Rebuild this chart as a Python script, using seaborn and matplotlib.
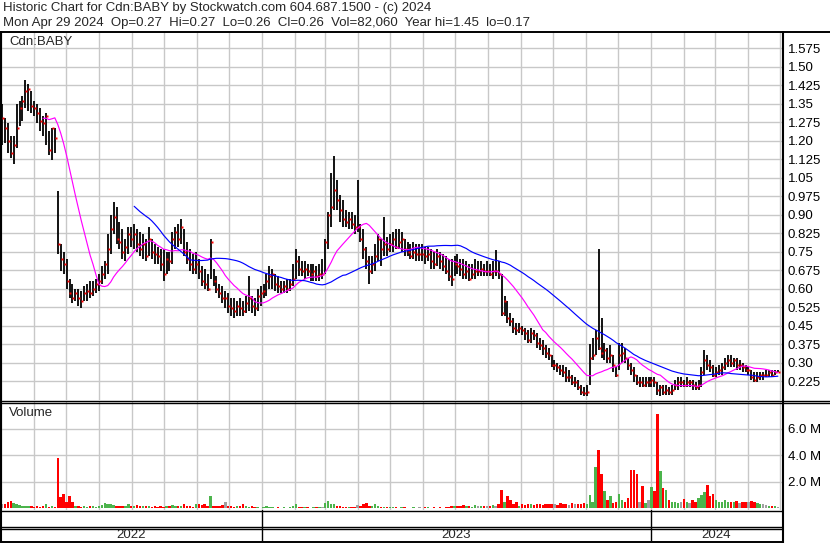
import matplotlib
matplotlib.use('Agg')
import matplotlib.pyplot as plt
import seaborn as sns
import pandas as pd
import numpy as np

# bars every 2nd session, 2 May 2022 -> 29 Apr 2024 (11 bars a month)
high = [
    1.35, 1.29, 1.27, 1.22, 1.22, 1.35, 1.36, 1.38, 1.447, 1.43, 1.40,   # May 22
    1.36, 1.35, 1.33, 1.30, 1.31, 1.24, 1.25, 1.25, 0.996, 0.78, 0.75,   # Jun
    0.72, 0.64, 0.62, 0.60, 0.60, 0.59, 0.61, 0.62, 0.63, 0.63, 0.64,    # Jul
    0.66, 0.69, 0.71, 0.82, 0.90, 0.95, 0.93, 0.87, 0.84, 0.80, 0.85,    # Aug
    0.85, 0.86, 0.84, 0.83, 0.82, 0.80, 0.85, 0.80, 0.78, 0.77, 0.76,    # Sep
    0.76, 0.75, 0.75, 0.83, 0.85, 0.86, 0.88, 0.84, 0.79, 0.76, 0.74,    # Oct
    0.75, 0.72, 0.69, 0.68, 0.66, 0.80, 0.68, 0.65, 0.62, 0.61, 0.59,    # Nov
    0.58, 0.56, 0.56, 0.55, 0.56, 0.55, 0.57, 0.65, 0.57, 0.56, 0.60,    # Dec
    0.61, 0.62, 0.66, 0.69, 0.68, 0.66, 0.65, 0.63, 0.63, 0.64, 0.64,    # Jan 23
    0.70, 0.76, 0.73, 0.71, 0.71, 0.70, 0.70, 0.70, 0.69, 0.70, 0.72,    # Feb
    0.80, 0.91, 1.07, 1.138, 1.04, 0.98, 0.96, 0.92, 0.91, 0.91, 0.90,   # Mar
    1.04, 0.86, 0.84, 0.77, 0.73, 0.73, 0.78, 0.82, 0.80, 0.89, 0.81,    # Apr
    0.82, 0.83, 0.84, 0.84, 0.83, 0.80, 0.79, 0.78, 0.79, 0.78, 0.78,    # May
    0.78, 0.77, 0.77, 0.76, 0.75, 0.76, 0.75, 0.74, 0.73, 0.72, 0.72,    # Jun
    0.73, 0.74, 0.72, 0.72, 0.71, 0.70, 0.70, 0.72, 0.71, 0.71, 0.70,    # Jul
    0.71, 0.70, 0.71, 0.755, 0.71, 0.66, 0.57, 0.55, 0.50, 0.48, 0.46,   # Aug
    0.46, 0.45, 0.44, 0.43, 0.44, 0.43, 0.42, 0.40, 0.39, 0.37, 0.36,    # Sep
    0.33, 0.31, 0.30, 0.29, 0.29, 0.28, 0.27, 0.25, 0.24, 0.23, 0.21,    # Oct
    0.20, 0.21, 0.375, 0.40, 0.43, 0.76, 0.48, 0.38, 0.36, 0.37, 0.33,   # Nov
    0.28, 0.38, 0.38, 0.36, 0.32, 0.30, 0.28, 0.25, 0.24, 0.24, 0.24,    # Dec
    0.24, 0.24, 0.24, 0.22, 0.21, 0.21, 0.21, 0.20, 0.21, 0.23, 0.24,    # Jan 24
    0.24, 0.23, 0.24, 0.23, 0.23, 0.22, 0.23, 0.28, 0.35, 0.33, 0.31,    # Feb
    0.29, 0.28, 0.29, 0.30, 0.32, 0.33, 0.33, 0.32, 0.32, 0.31, 0.30,    # Mar
    0.29, 0.28, 0.27, 0.26, 0.26, 0.26, 0.26, 0.27, 0.27, 0.27, 0.27, 0.27,  # Apr
]
low = [
    1.18, 1.19, 1.15, 1.13, 1.105, 1.17, 1.26, 1.28, 1.33, 1.32, 1.31,
    1.30, 1.27, 1.24, 1.22, 1.18, 1.14, 1.12, 1.15, 0.74, 0.67, 0.66,
    0.60, 0.56, 0.54, 0.55, 0.53, 0.52, 0.55, 0.55, 0.56, 0.57, 0.58,
    0.59, 0.62, 0.64, 0.66, 0.74, 0.82, 0.78, 0.76, 0.72, 0.71, 0.74,
    0.77, 0.76, 0.75, 0.73, 0.72, 0.71, 0.73, 0.72, 0.70, 0.70, 0.67,
    0.63, 0.66, 0.67, 0.70, 0.76, 0.77, 0.78, 0.73, 0.70, 0.67, 0.66,
    0.66, 0.64, 0.61, 0.60, 0.59, 0.64, 0.61, 0.58, 0.56, 0.54, 0.52,
    0.50, 0.49, 0.48, 0.49, 0.49, 0.49, 0.50, 0.51, 0.50, 0.49, 0.51,
    0.53, 0.56, 0.57, 0.60, 0.60, 0.59, 0.58, 0.58, 0.58, 0.58, 0.59,
    0.61, 0.64, 0.65, 0.65, 0.64, 0.65, 0.63, 0.63, 0.63, 0.63, 0.64,
    0.66, 0.76, 0.85, 0.92, 0.92, 0.87, 0.85, 0.85, 0.84, 0.84, 0.82,
    0.83, 0.79, 0.72, 0.68, 0.62, 0.66, 0.67, 0.71, 0.69, 0.73, 0.73,
    0.75, 0.75, 0.76, 0.76, 0.75, 0.73, 0.73, 0.72, 0.72, 0.71, 0.71,
    0.71, 0.70, 0.71, 0.68, 0.68, 0.69, 0.68, 0.67, 0.66, 0.63, 0.61,
    0.65, 0.66, 0.65, 0.64, 0.64, 0.63, 0.64, 0.64, 0.65, 0.65, 0.65,
    0.65, 0.65, 0.64, 0.65, 0.64, 0.49, 0.49, 0.46, 0.45, 0.42, 0.41,
    0.42, 0.41, 0.39, 0.38, 0.38, 0.39, 0.36, 0.35, 0.33, 0.32, 0.31,
    0.28, 0.27, 0.26, 0.25, 0.24, 0.22, 0.22, 0.21, 0.20, 0.19, 0.17,
    0.165, 0.165, 0.21, 0.31, 0.33, 0.35, 0.32, 0.31, 0.30, 0.30, 0.26,
    0.24, 0.27, 0.30, 0.30, 0.27, 0.25, 0.22, 0.21, 0.20, 0.20, 0.20,
    0.20, 0.20, 0.20, 0.17, 0.165, 0.17, 0.17, 0.17, 0.17, 0.19, 0.19,
    0.20, 0.20, 0.20, 0.20, 0.19, 0.19, 0.19, 0.20, 0.25, 0.27, 0.26,
    0.24, 0.24, 0.25, 0.25, 0.27, 0.28, 0.28, 0.28, 0.27, 0.27, 0.26,
    0.26, 0.25, 0.23, 0.22, 0.22, 0.23, 0.23, 0.24, 0.24, 0.24, 0.25, 0.26,
]
close = [
    1.29, 1.25, 1.20, 1.15, 1.18, 1.25, 1.33, 1.36, 1.40, 1.41, 1.34,
    1.33, 1.31, 1.28, 1.27, 1.30, 1.16, 1.25, 1.21, 0.78, 0.72, 0.70,
    0.63, 0.58, 0.56, 0.58, 0.56, 0.55, 0.58, 0.59, 0.58, 0.60, 0.62,
    0.63, 0.66, 0.70, 0.76, 0.84, 0.89, 0.80, 0.79, 0.75, 0.77, 0.82,
    0.80, 0.82, 0.78, 0.76, 0.78, 0.73, 0.80, 0.75, 0.74, 0.73, 0.70,
    0.66, 0.72, 0.71, 0.80, 0.83, 0.80, 0.85, 0.75, 0.72, 0.70, 0.68,
    0.70, 0.67, 0.63, 0.62, 0.60, 0.79, 0.63, 0.60, 0.58, 0.56, 0.56,
    0.53, 0.52, 0.51, 0.53, 0.52, 0.51, 0.54, 0.56, 0.53, 0.52, 0.57,
    0.58, 0.59, 0.63, 0.65, 0.66, 0.62, 0.61, 0.60, 0.61, 0.60, 0.62,
    0.64, 0.71, 0.68, 0.67, 0.68, 0.67, 0.66, 0.67, 0.65, 0.66, 0.66,
    0.79, 0.90, 0.93, 1.00, 0.96, 0.92, 0.88, 0.87, 0.88, 0.86, 0.85,
    0.85, 0.80, 0.76, 0.71, 0.67, 0.70, 0.73, 0.80, 0.76, 0.78, 0.76,
    0.78, 0.80, 0.77, 0.79, 0.80, 0.76, 0.75, 0.73, 0.75, 0.74, 0.74,
    0.74, 0.73, 0.74, 0.71, 0.70, 0.73, 0.71, 0.69, 0.67, 0.65, 0.64,
    0.70, 0.69, 0.68, 0.66, 0.67, 0.64, 0.66, 0.67, 0.67, 0.68, 0.67,
    0.67, 0.66, 0.67, 0.67, 0.66, 0.50, 0.55, 0.48, 0.47, 0.44, 0.43,
    0.44, 0.43, 0.42, 0.39, 0.42, 0.41, 0.38, 0.37, 0.36, 0.34, 0.33,
    0.29, 0.29, 0.28, 0.27, 0.26, 0.24, 0.24, 0.22, 0.22, 0.20, 0.18,
    0.175, 0.18, 0.32, 0.33, 0.40, 0.36, 0.34, 0.35, 0.32, 0.33, 0.29,
    0.25, 0.33, 0.34, 0.32, 0.29, 0.27, 0.25, 0.22, 0.22, 0.21, 0.22,
    0.22, 0.23, 0.22, 0.19, 0.20, 0.18, 0.19, 0.18, 0.19, 0.21, 0.22,
    0.22, 0.21, 0.22, 0.22, 0.21, 0.20, 0.21, 0.26, 0.31, 0.29, 0.28,
    0.25, 0.26, 0.27, 0.28, 0.30, 0.31, 0.30, 0.31, 0.29, 0.29, 0.28,
    0.27, 0.27, 0.24, 0.23, 0.24, 0.25, 0.25, 0.25, 0.26, 0.25, 0.26, 0.26,
]
# volume in millions of shares
volume = [
    0.30, 0.35, 0.50, 0.55, 0.40, 0.30, 0.25, 0.20, 0.15, 0.20, 0.15,
    0.10, 0.20, 0.10, 0.15, 0.30, 0.12, 0.20, 0.10, 3.80, 0.85, 1.10,
    0.50, 0.93, 0.50, 0.20, 0.15, 0.12, 0.20, 0.10, 0.15, 0.20, 0.12,
    0.15, 0.25, 0.40, 0.35, 0.30, 0.25, 0.20, 0.15, 0.20, 0.15, 0.30,
    0.20, 0.15, 0.25, 0.20, 0.15, 0.15, 0.20, 0.10, 0.15, 0.10, 0.15,
    0.10, 0.15, 0.20, 0.25, 0.15, 0.20, 0.15, 0.30, 0.20, 0.15, 0.10,
    0.35, 0.30, 0.25, 0.30, 0.15, 0.93, 0.20, 0.15, 0.20, 0.25, 0.47,
    0.20, 0.15, 0.10, 0.15, 0.20, 0.35, 0.20, 0.10, 0.15, 0.10, 0.10,
    0.05, 0.10, 0.15, 0.10, 0.08, 0.05, 0.10, 0.05, 0.08, 0.05, 0.10,
    0.15, 0.30, 0.10, 0.08, 0.10, 0.08, 0.05, 0.08, 0.10, 0.08, 0.12,
    0.40, 0.55, 0.35, 0.30, 0.20, 0.15, 0.10, 0.12, 0.10, 0.08, 0.10,
    0.25, 0.20, 0.35, 0.40, 0.20, 0.15, 0.30, 0.15, 0.10, 0.12, 0.10,
    0.10, 0.08, 0.12, 0.05, 0.10, 0.08, 0.05, 0.05, 0.08, 0.05, 0.10,
    0.05, 0.10, 0.08, 0.05, 0.10, 0.05, 0.08, 0.05, 0.10, 0.08, 0.15,
    0.15, 0.20, 0.15, 0.25, 0.15, 0.20, 0.10, 0.25, 0.20, 0.15, 0.20,
    0.15, 0.20, 0.25, 0.20, 0.30, 1.40, 0.45, 0.95, 0.60, 0.35, 0.50,
    0.20, 0.30, 0.25, 0.35, 0.30, 0.25, 0.30, 0.30, 0.25, 0.35, 0.30,
    0.30, 0.35, 0.25, 0.40, 0.30, 0.35, 0.25, 0.40, 0.30, 0.35, 0.30,
    0.40, 0.30, 1.00, 0.50, 3.15, 4.40, 2.55, 1.30, 0.60, 0.90, 0.40,
    0.50, 1.10, 0.60, 0.45, 0.80, 2.85, 2.85, 2.55, 0.50, 1.70, 0.40,
    0.60, 1.60, 1.30, 7.10, 2.80, 1.55, 1.40, 0.60, 0.45, 0.50, 0.40,
    0.45, 0.70, 0.50, 0.40, 0.60, 0.50, 0.80, 1.00, 1.20, 1.75, 0.90,
    1.10, 0.60, 0.50, 0.45, 0.60, 0.50, 0.45, 0.50, 0.55, 0.40, 0.45,
    0.45, 0.50, 0.55, 0.50, 0.40, 0.35, 0.30, 0.25, 0.20, 0.15, 0.15, 0.08,
]

first_day = '2022-05-02'
last_day = '2024-04-29'
price_ticks = [0.225, 0.30, 0.375, 0.45, 0.525, 0.60, 0.675, 0.75, 0.825, 0.90,
               0.975, 1.05, 1.125, 1.20, 1.275, 1.35, 1.425, 1.50, 1.575]
price_labels = ['0.225', '0.30', '0.375', '0.45', '0.525', '0.60', '0.675', '0.75',
                '0.825', '0.90', '0.975', '1.05', '1.125', '1.20', '1.275', '1.35',
                '1.425', '1.50', '1.575']
vol_ticks = [2, 4, 6]
vol_labels = ['2.0 M', '4.0 M', '6.0 M']
years = [2022, 2023, 2024]
title1 = 'Historic Chart for Cdn:BABY by Stockwatch.com 604.687.1500 - (c) 2024'
title2 = ('Mon Apr 29 2024  Op=0.27  Hi=0.27  Lo=0.26  Cl=0.26  Vol=82,060  '
          'Year hi=1.45  lo=0.17')

df = pd.DataFrame({'high': high, 'low': low, 'close': close, 'volume': volume})
df['date'] = pd.date_range(first_day, last_day, periods=len(df))
df['ma_short'] = df['close'].rolling(15).mean()
df['ma_long'] = df['close'].rolling(46).mean()
chg = df['close'].diff()
df['vcolor'] = np.where(chg > 0, '#4cb44c', np.where(chg < 0, '#ff0000', '#a0a0a0'))

sns.set_style('white')
plt.rcParams['font.family'] = ['Liberation Sans', 'DejaVu Sans']
FS = 9.5
GRID = '#c8c8c8'

W, H = 830, 543
fig = plt.figure(figsize=(W / 100, H / 100), dpi=100)


def px_axes(x0, y0, x1, y1):
    return fig.add_axes([x0 / W, 1 - y1 / H, (x1 - x0) / W, (y1 - y0) / H])


xlim = (pd.Timestamp('2022-04-30 05:00'), pd.Timestamp('2024-05-02 21:00'))
months = pd.date_range('2022-05-01', '2024-05-01', freq='MS')

# price panel
ax_p = px_axes(0, 32, 782, 400)
ax_p.vlines(df['date'], df['low'], df['high'], color='black', lw=1.3, zorder=3)
ax_p.plot(df['date'] + pd.Timedelta(hours=22), df['close'], ls='none', marker='s',
          ms=1.7, color='red', mec='none', zorder=4)
sns.lineplot(data=df, x='date', y='ma_short', ax=ax_p, color='#ff00ff', lw=0.85, zorder=5)
sns.lineplot(data=df, x='date', y='ma_long', ax=ax_p, color='#0000ff', lw=0.85, zorder=5)
ax_p.set_ylim(0.148, 1.640)
ax_p.set_yticks(price_ticks)
ax_p.set_yticklabels(price_labels)

# volume panel
ax_v = px_axes(0, 402, 782, 510)
ax_v.bar(df['date'], df['volume'], width=2.3, color=df['vcolor'], lw=0,
         antialiased=False, zorder=3)
ax_v.set_ylim(-0.12, 8.0)
ax_v.set_yticks(vol_ticks)
ax_v.set_yticklabels(vol_labels)

for ax in (ax_p, ax_v):
    ax.set_xlim(*xlim)
    ax.set_xticks(months)
    ax.set_xlabel('')
    ax.set_ylabel('')
    ax.grid(True, color=GRID, lw=1.0, zorder=0)
    ax.set_axisbelow(True)
    ax.yaxis.tick_right()
    ax.tick_params(axis='y', length=0, pad=4.2, labelsize=FS, labelcolor='black')
    ax.tick_params(axis='x', length=0, labelbottom=False)
    for s in ax.spines.values():
        s.set_visible(False)

# year strip
ax_t = px_axes(0, 510, 782, 541)
ax_t.set_xlim(*xlim)
ax_t.set_ylim(0, 1)
ax_t.axis('off')
for yr in years:
    start = max(pd.Timestamp(f'{yr}-01-01'), xlim[0])
    end = min(pd.Timestamp(f'{yr + 1}-01-01'), xlim[1])
    if start > xlim[0]:
        ax_t.axvline(start, color='black', lw=1.0)
    ax_t.text(start + (end - start) / 2, 0.2, str(yr), ha='center', va='center',
              fontsize=FS)

# frame and header in pixel space
ax_o = fig.add_axes([0, 0, 1, 1], facecolor='none')
ax_o.set_xlim(0, W)
ax_o.set_ylim(H, 0)
ax_o.axis('off')
k = dict(color='black', solid_capstyle='butt')
ax_o.plot([0, W], [31.5, 31.5], lw=1.4, **k)
ax_o.plot([0, W], [400.5, 400.5], lw=1.0, **k)
ax_o.plot([0, W], [402.8, 402.8], lw=1.0, **k)
ax_o.plot([0, 782], [510.5, 510.5], lw=1.0, **k)
ax_o.plot([0, 782], [526.5, 526.5], lw=1.0, **k)
ax_o.plot([0, 782], [528.5, 528.5], lw=1.0, **k)
ax_o.plot([0, 782], [541.5, 541.5], lw=1.4, **k)
ax_o.plot([1, 1], [31, 542], lw=1.5, **k)
ax_o.plot([783, 783], [31, H], lw=1.5, **k)
ax_o.text(3, 8, title1, fontsize=FS, va='center')
ax_o.text(3, 23, title2, fontsize=FS, va='center')
ax_o.text(9, 42, 'Cdn:BABY', fontsize=FS, va='center')
ax_o.text(9, 413, 'Volume', fontsize=FS, va='center')

fig.savefig('out.png', dpi=100, facecolor='white')
